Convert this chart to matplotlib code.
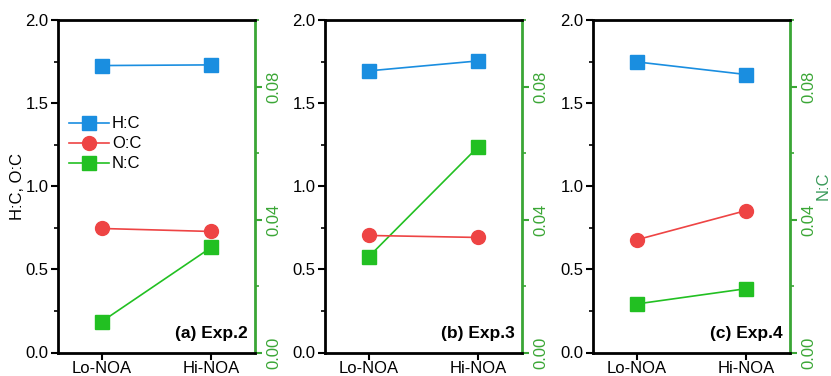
import matplotlib
matplotlib.use("Agg")
import matplotlib.pyplot as plt
from matplotlib.ticker import MultipleLocator

plt.rcParams['font.family'] = ['Liberation Sans', 'DejaVu Sans']

categories = ["Lo-NOA", "Hi-NOA"]
panel_labels = ["(a) Exp.2", "(b) Exp.3", "(c) Exp.4"]
hc = [[1.726, 1.730], [1.694, 1.754], [1.748, 1.672]]
oc = [[0.746, 0.728], [0.704, 0.692], [0.678, 0.854]]
nc = [[0.0093, 0.0316], [0.0288, 0.0619], [0.0146, 0.0192]]

blue = '#1a8ee0'
red = '#ee4444'
green = '#22c022'
axgreen = '#3aa635'
labgreen = '#3a9a5a'

fs = 12

fig = plt.figure(figsize=(8.31, 3.76), dpi=100)
W, H = 831, 376
lefts = [58, 325, 593]
aw = 197
top, bottom = 20, 352.5

x = [0, 1]
for i in range(3):
    ax = fig.add_axes([lefts[i] / W, 1 - bottom / H, aw / W, (bottom - top) / H])
    ax2 = ax.twinx()
    l1, = ax.plot(x, hc[i], '-', color=blue, lw=1.2, marker='s', ms=9.5, label='H:C')
    l2, = ax.plot(x, oc[i], '-', color=red, lw=1.2, marker='o', ms=10, label='O:C')
    l3, = ax2.plot(x, nc[i], '-', color=green, lw=1.2, marker='s', ms=9.5, label='N:C')
    ax.set_xlim(-0.4, 1.4)
    ax.set_ylim(0, 2.0)
    ax2.set_ylim(0, 0.1)
    ax.set_xticks(x)
    ax.set_xticklabels(categories, fontsize=fs)
    ax.yaxis.set_major_locator(MultipleLocator(0.5))
    ax.yaxis.set_minor_locator(MultipleLocator(0.25))
    ax.set_yticklabels([f"{v:.1f}" for v in ax.get_yticks()], fontsize=fs)
    ax.tick_params(axis='both', which='major', direction='out', length=5, width=1.5)
    ax.tick_params(axis='x', which='major', pad=1)
    ax.tick_params(axis='y', which='major', pad=2)
    ax.tick_params(axis='y', which='minor', direction='out', length=3, width=1.2)
    for s in ['left', 'bottom', 'top']:
        ax.spines[s].set_linewidth(2.0)
    ax.spines['right'].set_visible(False)
    ax2.spines['right'].set_color(axgreen)
    ax2.spines['right'].set_linewidth(2.0)
    for s in ['left', 'bottom', 'top']:
        ax2.spines[s].set_visible(False)
    ax2.yaxis.set_major_locator(MultipleLocator(0.04))
    ax2.yaxis.set_minor_locator(MultipleLocator(0.02))
    ax2.set_yticks([0.0, 0.04, 0.08])
    ax2.set_yticklabels(["0.00", "0.04", "0.08"], fontsize=fs, color=axgreen, rotation=90, va='center')
    ax2.tick_params(axis='y', which='major', direction='out', length=5, width=1.5, color=axgreen)
    ax2.tick_params(axis='y', which='minor', direction='out', length=3, width=1.2, color=axgreen)
    ax.text(0.965, 0.035, panel_labels[i], transform=ax.transAxes, ha='right', va='bottom',
            fontsize=12.5, fontweight='bold')
    ax.set_zorder(ax2.get_zorder() + 1)
    ax.patch.set_visible(False)
    if i == 0:
        ax.set_ylabel("H:C, O:C", fontsize=fs)
        ax.yaxis.set_label_coords(-0.165, 0.5)
        ax.legend(handles=[l1, l2, l3], loc='upper left', bbox_to_anchor=(0.02, 0.73),
                  frameon=False, fontsize=fs, handlelength=2.4, handletextpad=0.2,
                  labelspacing=0.3, borderaxespad=0)
    if i == 2:
        ax2.set_ylabel("N:C", fontsize=fs, color=labgreen)
        ax2.yaxis.set_label_coords(1.13, 0.5)

fig.savefig("out.png", dpi=100)
